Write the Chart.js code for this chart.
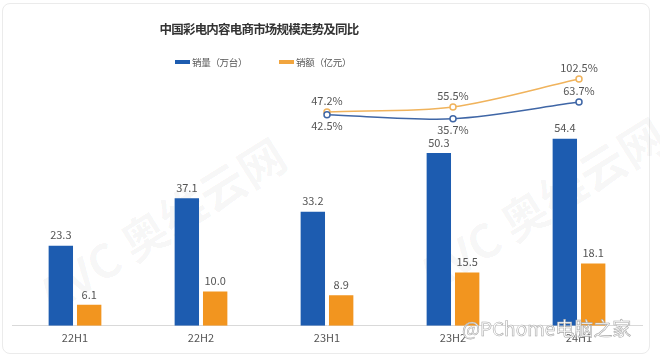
<!DOCTYPE html>
<html>
<head>
<meta charset="utf-8">
<script src="https://cdn.jsdelivr.net/npm/chart.js@4"></script>
<style>
  body { margin: 0; background: #fff; font-family: "Noto Sans CJK SC", "Noto Sans", sans-serif; }
  #wrap { position: relative; width: 660px; height: 363px; overflow: hidden; }
  #card { position: absolute; left: 2px; top: 3px; width: 646px; height: 349px; border: 1px solid #ebebeb; border-radius: 8px; }
  #title { position: absolute; left: 109px; width: 300px; top: 19px; text-align: center; font-size: 12.5px; letter-spacing: -0.8px; font-weight: bold; color: #333; white-space: nowrap; }
  .leg { position: absolute; top: 55px; font-size: 9.5px; letter-spacing: -0.3px; color: #555; white-space: nowrap; }
  .leg i { display: inline-block; width: 15px; height: 4px; vertical-align: middle; margin-right: 2px; position: relative; top: -1px; }
  .wm { position: absolute; color: rgba(0,0,0,0.04); font-weight: bold; transform: rotate(-32deg); white-space: nowrap; }
  #pc { position: absolute; left: 462px; top: 314px; font-size: 19px; color: #fff; -webkit-text-stroke: 0.6px #aaa; white-space: nowrap; }
  canvas { position: absolute; left: 0; top: 0; }
</style>
</head>
<body>
<div id="wrap">
  <div id="card"></div>
  <div class="wm" style="left:20px; top:190px; font-size:46px;">AVC 奥维云网</div>
  <div class="wm" style="left:400px; top:170px; font-size:46px;">AVC 奥维云网</div>
  <canvas id="chart" width="660" height="363"></canvas>
  <div id="title">中国彩电内容电商市场规模走势及同比</div>
  <div class="leg" style="left:175px;"><i style="background:#1d5cb0"></i>销量（万台）</div>
  <div class="leg" style="left:279px;"><i style="background:#f1a53e"></i>销额（亿元）</div>
  <div id="pc">@PChome电脑之家</div>
</div>
<script>
const categories = ['22H1', '22H2', '23H1', '23H2', '24H1'];
const volume = [23.3, 37.1, 33.2, 50.3, 54.4];
const sales = [6.1, 10.0, 8.9, 15.5, 18.1];
const volumeYoY = [null, null, 42.5, 35.7, 63.7];
const salesYoY = [null, null, 47.2, 55.5, 102.5];

const BLUE = '#1d5cb0';
const ORANGE = '#f2951f';
const LINE_BLUE = '#3f66a6';
const LINE_ORANGE = '#f0b35c';

// draws the number labels above bars and beside points
const valueLabels = {
    id: 'valueLabels',
    afterDatasetsDraw(chart) {
        const ctx = chart.ctx;
        ctx.save();
        ctx.font = '11px "Noto Sans CJK SC", sans-serif';
        ctx.fillStyle = '#555';
        ctx.textAlign = 'center';
        chart.data.datasets.forEach((ds, di) => {
            const meta = chart.getDatasetMeta(di);
            meta.data.forEach((el, i) => {
                const v = ds.data[i];
                if (v === null) return;
                if (ds.type === 'line') {
                    const txt = v.toFixed(1) + '%';
                    let below = di === 2 && i < 4;
                    ctx.textBaseline = below ? 'top' : 'bottom';
                    ctx.fillText(txt, el.x, below ? el.y + 6 : el.y - 6);
                } else {
                    ctx.textBaseline = 'bottom';
                    ctx.fillText(v.toFixed(1), el.x, el.y - 5);
                }
            });
        });
        ctx.restore();
    }
};

new Chart(document.getElementById('chart'), {
    type: 'bar',
    data: {
        labels: categories,
        datasets: [
            { label: '销量（万台）', data: volume, backgroundColor: BLUE, yAxisID: 'y', order: 2,
              categoryPercentage: 0.45, barPercentage: 0.86 },
            { label: '销额（亿元）', data: sales, backgroundColor: ORANGE, yAxisID: 'y', order: 2,
              categoryPercentage: 0.45, barPercentage: 0.86 },
            { type: 'line', label: '销量同比', data: volumeYoY, borderColor: LINE_BLUE, borderWidth: 1.5,
              pointRadius: 3, pointBackgroundColor: '#fff', pointBorderColor: LINE_BLUE, pointBorderWidth: 1.5,
              yAxisID: 'y2', order: 1, tension: 0.3 },
            { type: 'line', label: '销额同比', data: salesYoY, borderColor: LINE_ORANGE, borderWidth: 1.5,
              pointRadius: 3, pointBackgroundColor: '#fff', pointBorderColor: LINE_ORANGE, pointBorderWidth: 1.5,
              yAxisID: 'y2', order: 1, tension: 0.3 }
        ]
    },
    options: {
        responsive: false,
        animation: false,
        layout: { padding: { top: 68, left: 12, right: 18, bottom: 14 } },
        plugins: { legend: { display: false }, tooltip: { enabled: false }, title: { display: false } },
        scales: {
            x: {
                grid: { display: false, drawTicks: false },
                border: { color: '#d9d9d9' },
                ticks: { color: '#555', font: { size: 11, family: '"Noto Sans CJK SC", sans-serif' }, padding: 5 }
            },
            y: { display: false, min: 0, max: 75 },
            y2: { display: false, min: -312, max: 121 }
        }
    },
    plugins: [valueLabels]
});
</script>
</body>
</html>
